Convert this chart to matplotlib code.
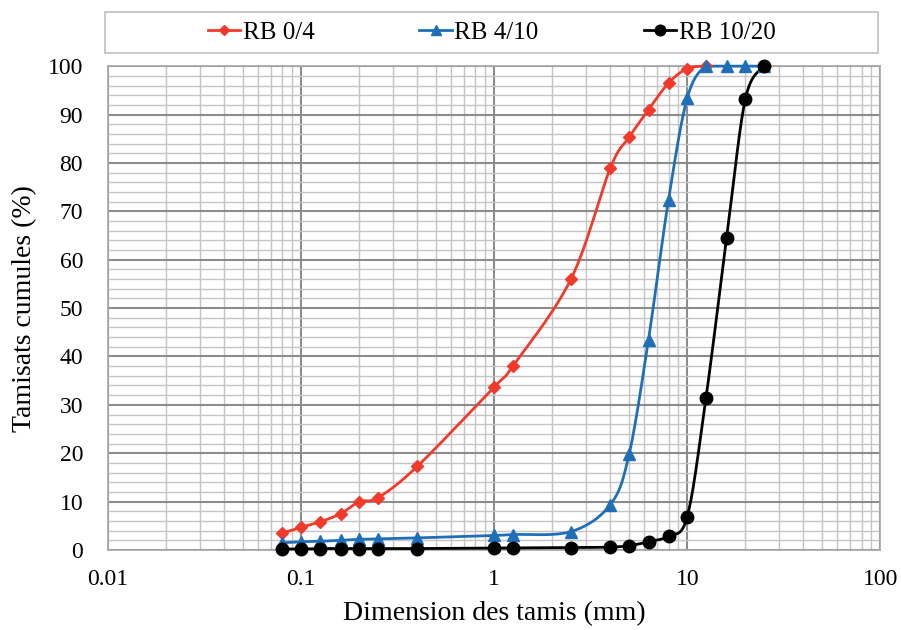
import numpy as np
import matplotlib
matplotlib.use("Agg")
import matplotlib.pyplot as plt
from matplotlib.patches import Rectangle
from matplotlib.ticker import FixedLocator, LogLocator, MultipleLocator, NullFormatter

plt.rcParams['font.family'] = ['Liberation Serif', 'DejaVu Serif']

sieves_04 = [0.08, 0.1, 0.125, 0.16, 0.2, 0.25, 0.4, 1, 1.25, 2.5, 4, 5, 6.3, 8, 10, 12.5]
rb_04 = [3.5, 4.7, 5.8, 7.5, 10.0, 10.8, 17.3, 33.7, 38.0, 56.0, 79.0, 85.3, 91.0, 96.5, 99.5, 100.0]

sieves_410 = [0.08, 0.1, 0.125, 0.16, 0.2, 0.25, 0.4, 1, 1.25, 2.5, 4, 5, 6.3, 8, 10, 12.5, 16, 20, 25]
rb_410 = [1.5, 1.7, 1.8, 2.0, 2.2, 2.3, 2.5, 3.0, 3.2, 3.8, 9.4, 19.8, 43.5, 72.4, 93.4, 100.0, 100.0, 100.0, 100.0]

sieves_1020 = [0.08, 0.1, 0.125, 0.16, 0.2, 0.25, 0.4, 1, 1.25, 2.5, 4, 5, 6.3, 8, 10, 12.5, 16, 20, 25]
rb_1020 = [0.2, 0.2, 0.3, 0.3, 0.3, 0.3, 0.3, 0.4, 0.4, 0.5, 0.6, 0.9, 1.7, 2.9, 6.9, 31.4, 64.5, 93.2, 100.0]

series = [
    ("RB 0/4", sieves_04, rb_04, "#f03a2b", "D", 6.5),
    ("RB 4/10", sieves_410, rb_410, "#1f6fb8", "^", 8.5),
    ("RB 10/20", sieves_1020, rb_1020, "#000000", "o", 9),
]


def smooth(xs, ys, n=30):
    # Catmull-Rom spline through points in (log10 x, y) space, scaled to similar ranges
    lx = np.log10(np.asarray(xs, float)) * 25.0
    y = np.asarray(ys, float)
    P = np.column_stack([lx, y])
    P = np.vstack([P[0], P, P[-1]])
    out = []
    for i in range(1, len(P) - 2):
        p0, p1, p2, p3 = P[i - 1], P[i], P[i + 1], P[i + 2]
        t = np.linspace(0, 1, n)[:, None]
        c = 0.5 * ((2 * p1) + (-p0 + p2) * t + (2 * p0 - 5 * p1 + 4 * p2 - p3) * t ** 2
                   + (-p0 + 3 * p1 - 3 * p2 + p3) * t ** 3)
        out.append(c)
    c = np.vstack(out)
    return 10 ** (c[:, 0] / 25.0), np.clip(c[:, 1], 0, 100)


fig = plt.figure(figsize=(9.01, 6.30), dpi=100)
ax = fig.add_axes([0.12, 0.127, 0.857, 0.768])

handles = []
for label, xs, ys, col, mk, ms in series:
    sx, sy = smooth(xs, ys)
    ax.plot(sx, sy, color=col, lw=2, zorder=3, clip_on=False)
    ax.plot(xs, ys, linestyle='none', marker=mk, color=col, ms=ms, zorder=4, clip_on=False)
    h, = ax.plot([], [], color=col, lw=2, marker=mk, ms=ms * 0.85)
    handles.append(h)

ax.set_xscale('log')
ax.set_xlim(0.01, 100)
ax.set_ylim(0, 100)
ax.xaxis.set_major_locator(FixedLocator([0.01, 0.1, 1, 10, 100]))
ax.xaxis.set_minor_locator(LogLocator(base=10, subs=np.arange(2, 10)))
ax.xaxis.set_minor_formatter(NullFormatter())
ax.set_xticklabels(["0.01", "0.1", "1", "10", "100"])
ax.yaxis.set_major_locator(MultipleLocator(10))
ax.yaxis.set_minor_locator(MultipleLocator(2))

ax.grid(which='major', color='#8c8c8c', lw=1.5, zorder=1)
ax.grid(which='minor', color='#c4c4c4', lw=1.0, zorder=0)
ax.set_axisbelow(True)
ax.tick_params(which='both', length=0, labelsize=17)
ax.tick_params(axis='y', pad=18)
ax.tick_params(axis='x', pad=14)
for s in ax.spines.values():
    s.set_color('#a6a6a6')
    s.set_linewidth(1.2)

ax.set_xlabel("Dimension des tamis (mm)", fontsize=20, labelpad=8)
ax.set_ylabel("Tamisats cumules (%)", fontsize=20, labelpad=8)

# legend frame
fig.patches.append(Rectangle((105 / 901, 1 - 53 / 630), (878 - 105) / 901, 41 / 630,
                             transform=fig.transFigure, facecolor='white',
                             edgecolor='#c0c0c0', lw=1.2, zorder=0))
leg = fig.legend(handles, [s[0] for s in series], loc='center',
                 bbox_to_anchor=(491.5 / 901, 1 - 32.5 / 630),
                 ncol=3, fontsize=18, frameon=False,
                 handlelength=1.3, handletextpad=0.1, borderaxespad=0,
                 columnspacing=4.2)

fig.savefig("out.png", dpi=100)
